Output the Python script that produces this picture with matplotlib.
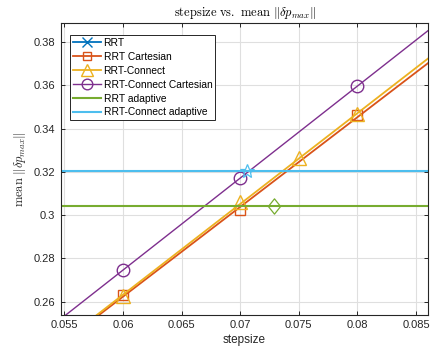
import numpy as np
import matplotlib.pyplot as plt
from matplotlib.path import Path

plt.rcParams['font.family'] = ['Liberation Sans', 'DejaVu Sans']
plt.rcParams['mathtext.fontset'] = 'cm'

# mean ||dp_max|| per planner at fixed step sizes
rrt_step = []
rrt_val = []
rrt_cart_step = [0.06, 0.07, 0.08]
rrt_cart_val = [0.2631, 0.3023, 0.3461]
con_step = [0.06, 0.07, 0.075, 0.08]
con_val = [0.2628, 0.3060, 0.3263, 0.3467]
con_cart_step = [0.06, 0.07, 0.08]
con_cart_val = [0.2746, 0.3172, 0.3597]

# adaptive runs: mean step size used and resulting mean ||dp_max||
rrt_adapt_step = 0.07284
rrt_adapt_val = 0.3043
con_adapt_step = 0.07057
con_adapt_val = 0.3205

xlim = (0.05472, 0.0860)
ylim = (0.2540, 0.3888)

c_blue = '#0072BD'
c_orange = '#D95319'
c_yellow = '#EDB120'
c_purple = '#7E2F8E'
c_green = '#77AC30'
c_cyan = '#4DBEEE'
axcol = '#262626'

# matlab-like diamond, a bit taller than wide
diamond = Path([(0, 1), (0.8, 0), (0, -1), (-0.8, 0), (0, 1)],
               [Path.MOVETO, Path.LINETO, Path.LINETO, Path.LINETO, Path.CLOSEPOLY])

fig = plt.figure(figsize=(4.33, 3.56), dpi=100)
ax = fig.add_axes([0.141, 0.116, 0.847, 0.819])

xs = np.array(xlim)

def fit_plot(step, val, col, mk, ms, lw, label):
    if len(step) > 1:
        p = np.polyfit(step, val, 1)
        ax.plot(xs, np.polyval(p, xs), '-', color=col, lw=lw)
    ax.plot(step, val, linestyle='none', marker=mk, ms=ms, mfc='none',
            mec=col, mew=1.0)
    # legend proxy
    ax.plot([], [], '-', color=col, lw=lw, marker=mk, ms=ms * 0.85, mfc='none',
            mec=col, mew=1.0, label=label)

fit_plot(rrt_step, rrt_val, c_blue, 'x', 9, 1.3, 'RRT')
fit_plot(rrt_cart_step, rrt_cart_val, c_orange, 's', 7.5, 1.3, 'RRT Cartesian')
fit_plot(con_step, con_val, c_yellow, '^', 9.5, 1.3, 'RRT-Connect')
fit_plot(con_cart_step, con_cart_val, c_purple, 'o', 9, 1.0, 'RRT-Connect Cartesian')

ax.axhline(rrt_adapt_val, color=c_green, lw=1.5, label='RRT adaptive')
ax.axhline(con_adapt_val, color=c_cyan, lw=1.5, label='RRT-Connect adaptive')
ax.plot([rrt_adapt_step], [rrt_adapt_val], linestyle='none', marker=diamond, ms=11,
        mfc='none', mec=c_green, mew=0.9)
ax.plot([con_adapt_step], [con_adapt_val], linestyle='none', marker='*', ms=10,
        mfc='none', mec=c_cyan, mew=0.9)

ax.set_xlim(*xlim)
ax.set_ylim(*ylim)
ax.set_xticks([0.055, 0.06, 0.065, 0.07, 0.075, 0.08, 0.085])
ax.set_xticklabels(['0.055', '0.06', '0.065', '0.07', '0.075', '0.08', '0.085'])
ax.set_yticks([0.26, 0.28, 0.30, 0.32, 0.34, 0.36, 0.38])
ax.set_yticklabels(['0.26', '0.28', '0.3', '0.32', '0.34', '0.36', '0.38'])

ax.grid(True, color='#DFDFDF', lw=0.8)
ax.set_axisbelow(True)
ax.tick_params(direction='in', length=3, width=0.7, top=True, right=True,
               labelsize=8, colors=axcol, pad=4)
for s in ax.spines.values():
    s.set_color(axcol)
    s.set_linewidth(0.8)

ax.set_xlabel('stepsize', fontsize=8.5, color=axcol, labelpad=3)
ax.set_ylabel(r'$\mathrm{mean}\ \|\delta p_{max}\|$', fontsize=9, color=axcol, labelpad=4)
ax.set_title(r'$\mathrm{stepsize\ vs.\ mean}\ \|\delta p_{max}\|$', fontsize=9,
             color='black', pad=5)

leg = ax.legend(loc='upper left', bbox_to_anchor=(0.025, 0.96), fontsize=7.4,
                frameon=True, fancybox=False, edgecolor=axcol, framealpha=1,
                handlelength=2.7, handletextpad=0.25, borderpad=0.3,
                labelspacing=0.38, borderaxespad=0)
leg.get_frame().set_linewidth(0.7)

fig.savefig('out.png', dpi=100)
